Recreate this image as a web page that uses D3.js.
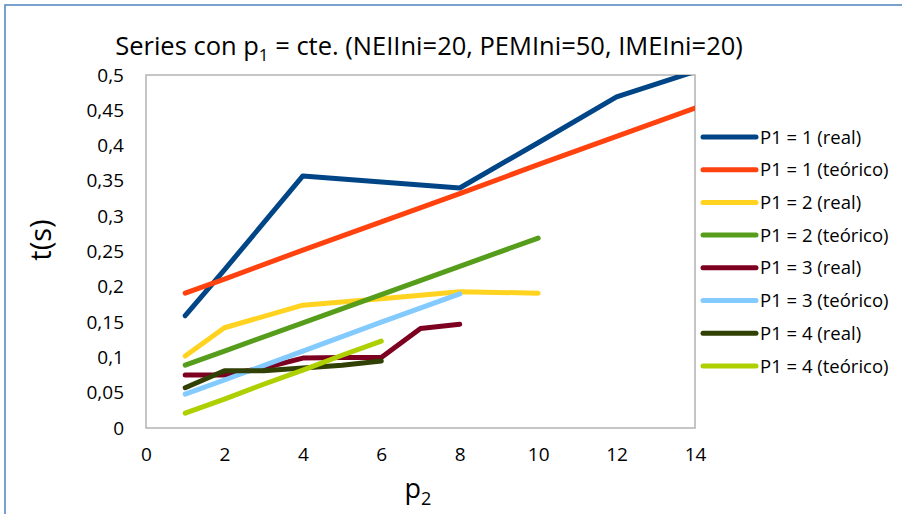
<!DOCTYPE html>
<html>
<head>
<meta charset="utf-8">
<script src="https://cdn.jsdelivr.net/npm/d3@7"></script>
<style>
  body { margin: 0; background: #fff; }
  text { font-family: "Open Sans", sans-serif; fill: #000; }
</style>
</head>
<body>
<script>
// values (p2 -> t in seconds)
const p2_p1real = [1, 2, 4, 8, 10, 12, 14];
const t_p1real = [0.159, 0.224, 0.357, 0.340, 0.404, 0.469, 0.505];
const p2_p1teo = [1, 2, 4, 6, 8, 10, 12, 14];
const t_p1teo = [0.191, 0.211, 0.252, 0.292, 0.332, 0.373, 0.413, 0.453];
const p2_p2real = [1, 2, 4, 6, 8, 10];
const t_p2real = [0.102, 0.142, 0.174, 0.183, 0.193, 0.191];
const p2_p2teo = [1, 2, 4, 6, 8, 10];
const t_p2teo = [0.089, 0.109, 0.149, 0.189, 0.229, 0.269];
const p2_p3real = [1, 2, 3, 4, 5, 6, 7, 8];
const t_p3real = [0.075, 0.075, 0.085, 0.099, 0.100, 0.100, 0.141, 0.147];
const p2_p3teo = [1, 2, 4, 6, 8];
const t_p3teo = [0.048, 0.068, 0.109, 0.150, 0.190];
const p2_p4real = [1, 2, 3, 4, 5, 6];
const t_p4real = [0.057, 0.081, 0.081, 0.085, 0.089, 0.095];
const p2_p4teo = [1, 2, 3, 4, 5, 6];
const t_p4teo = [0.021, 0.041, 0.062, 0.082, 0.103, 0.123];

const seriesNames = ["P1 = 1 (real)", "P1 = 1 (teórico)", "P1 = 2 (real)", "P1 = 2 (teórico)",
                     "P1 = 3 (real)", "P1 = 3 (teórico)", "P1 = 4 (real)", "P1 = 4 (teórico)"];
const seriesColors = ["#004586", "#ff420e", "#ffd320", "#579d1c", "#7e0021", "#83caff", "#314004", "#aecf00"];
const xTicks = [0, 2, 4, 6, 8, 10, 12, 14];
const yTicks = [0, 0.05, 0.1, 0.15, 0.2, 0.25, 0.3, 0.35, 0.4, 0.45, 0.5];

const seriesX = [p2_p1real, p2_p1teo, p2_p2real, p2_p2teo, p2_p3real, p2_p3teo, p2_p4real, p2_p4teo];
const seriesY = [t_p1real, t_p1teo, t_p2real, t_p2teo, t_p3real, t_p3teo, t_p4real, t_p4teo];

const width = 902, height = 514;
const plot = {left: 146, right: 695, top: 75, bottom: 428};

const svg = d3.select("body").append("svg")
  .attr("width", width)
  .attr("height", height);

// outer chart border (only top and left visible)
svg.append("rect")
  .attr("x", 5).attr("y", 5)
  .attr("width", width + 10).attr("height", height + 10)
  .attr("fill", "#fff")
  .attr("stroke", "#4f81bd")
  .attr("stroke-width", 1.5);

const x = d3.scaleLinear().domain([0, 14]).range([plot.left, plot.right]);
const y = d3.scaleLinear().domain([0, 0.5]).range([plot.bottom, plot.top]);

svg.append("clipPath").attr("id", "clip")
  .append("rect")
  .attr("x", plot.left).attr("y", plot.top)
  .attr("width", plot.right - plot.left).attr("height", plot.bottom - plot.top);

// plot area frame
svg.append("rect")
  .attr("x", plot.left).attr("y", plot.top)
  .attr("width", plot.right - plot.left).attr("height", plot.bottom - plot.top)
  .attr("fill", "none")
  .attr("stroke", "#b3b3b3")
  .attr("stroke-width", 1.5);

// axes, labels only
const fmt = d => String(d).replace(".", ",");

const xAxis = svg.append("g")
  .attr("transform", `translate(0,${plot.bottom + 16})`)
  .call(d3.axisBottom(x).tickValues(xTicks).tickSize(0).tickFormat(fmt));
xAxis.select(".domain").remove();
xAxis.selectAll("text").attr("font-size", 19).attr("font-family", "Open Sans").attr("fill", "#000");

const yAxis = svg.append("g")
  .attr("transform", `translate(${plot.left - 19},0)`)
  .call(d3.axisLeft(y).tickValues(yTicks).tickSize(0).tickFormat(fmt));
yAxis.select(".domain").remove();
yAxis.selectAll("text").attr("font-size", 19).attr("font-family", "Open Sans").attr("fill", "#000");

// lines
const line = d3.line()
  .x(d => x(d[0]))
  .y(d => y(d[1]));

const lines = svg.append("g").attr("clip-path", "url(#clip)");
seriesNames.forEach((name, i) => {
  const pts = seriesX[i].map((v, j) => [v, seriesY[i][j]]);
  lines.append("path")
    .attr("d", line(pts))
    .attr("fill", "none")
    .attr("stroke", seriesColors[i])
    .attr("stroke-width", 5)
    .attr("stroke-linecap", "round")
    .attr("stroke-linejoin", "round");
});

// title
const title = svg.append("text")
  .attr("x", 429).attr("y", 55)
  .attr("text-anchor", "middle")
  .attr("font-size", 25.5);
title.append("tspan").text("Series con p");
title.append("tspan").attr("font-size", 17).attr("dy", 6).text("1");
title.append("tspan").attr("dy", -6).text(" = cte. (NEIIni=20, PEMIni=50, IMEIni=20)");

// axis titles
const xt = svg.append("text")
  .attr("x", 418).attr("y", 498)
  .attr("text-anchor", "middle")
  .attr("font-size", 27);
xt.append("tspan").text("p");
xt.append("tspan").attr("font-size", 18).attr("dy", 7).text("2");

svg.append("text")
  .attr("transform", "translate(51,240) rotate(-90)")
  .attr("text-anchor", "middle")
  .attr("font-size", 29)
  .text("t(s)");

// legend
const legend = svg.append("g");
seriesNames.forEach((name, i) => {
  const ly = 137 + i * 32.7;
  legend.append("line")
    .attr("x1", 703).attr("x2", 756)
    .attr("y1", ly).attr("y2", ly)
    .attr("stroke", seriesColors[i])
    .attr("stroke-width", 5)
    .attr("stroke-linecap", "round");
  legend.append("text")
    .attr("x", 760).attr("y", ly)
    .attr("dy", "0.36em")
    .attr("font-size", 18.5)
    .text(name);
});
</script>
</body>
</html>
